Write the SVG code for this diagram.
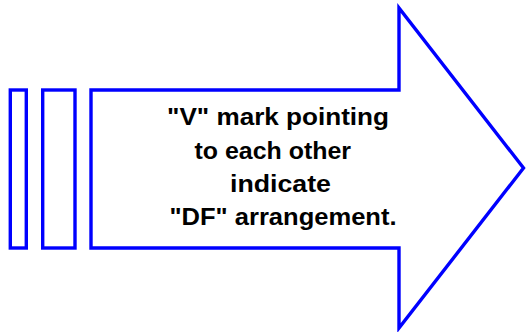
<svg xmlns="http://www.w3.org/2000/svg" width="526" height="332" viewBox="0 0 526 332">
  <style>
    .outline { fill: #ffffff; stroke: #0000ff; stroke-width: 3.4; stroke-linejoin: miter; }
    .label { font-family: "Liberation Sans", Arial, sans-serif; font-weight: bold; font-size: 24px; fill: #000000; }
  </style>
  <rect width="526" height="332" fill="#ffffff"/>
  <g id="bar1">
    <rect class="outline" x="10.3" y="90" width="16" height="158"/>
  </g>
  <g id="bar2">
    <rect class="outline" x="42.7" y="90" width="32.3" height="158"/>
  </g>
  <g id="arrow">
    <polygon class="outline" points="91,90 399,90 399,8 523.5,168 399,328 399,248 91,248"/>
    <text class="label" x="167" y="124.5" textLength="222" lengthAdjust="spacingAndGlyphs">"V" mark pointing</text>
    <text class="label" x="194.5" y="159" textLength="156.5" lengthAdjust="spacingAndGlyphs">to each other</text>
    <text class="label" x="230" y="192" textLength="101" lengthAdjust="spacingAndGlyphs">indicate</text>
    <text class="label" x="169.5" y="225" textLength="227" lengthAdjust="spacingAndGlyphs">"DF" arrangement.</text>
  </g>
  <g id="connectors"/>
</svg>
